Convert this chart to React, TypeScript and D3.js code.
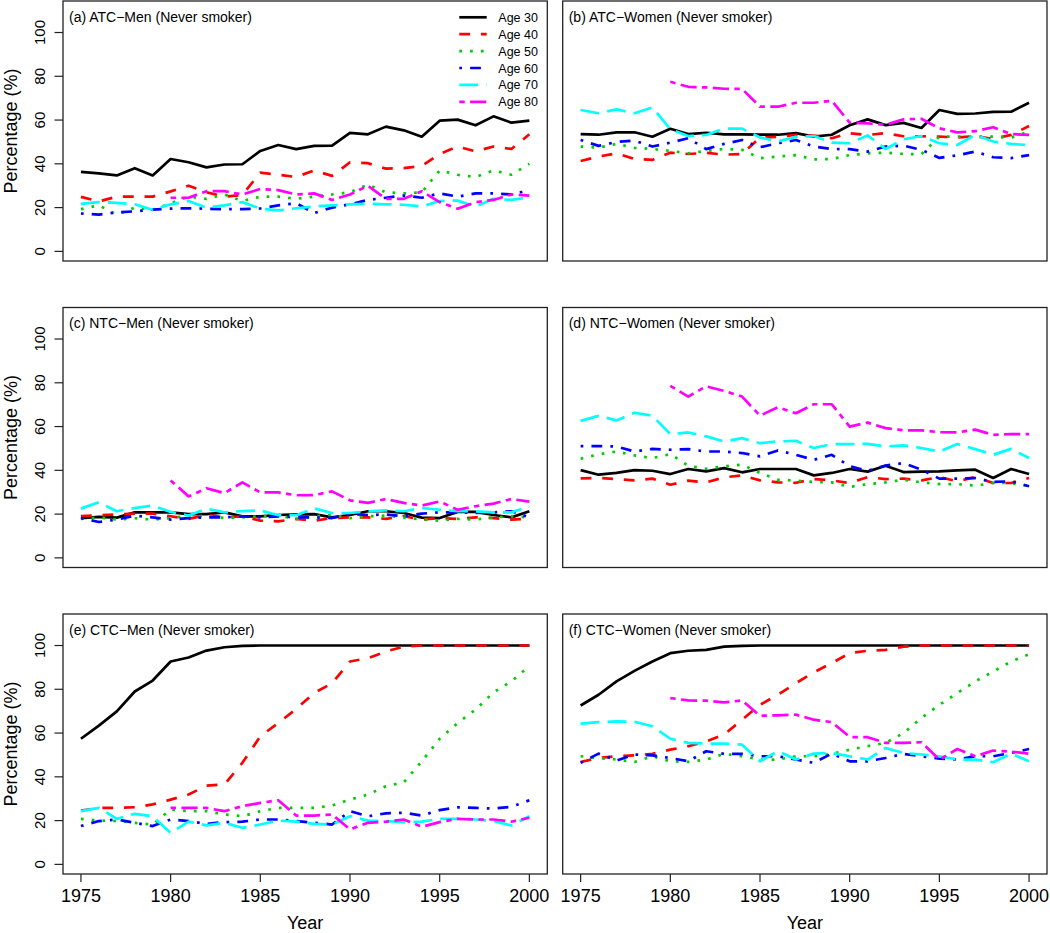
import React from 'react';
import * as d3 from 'd3';

// years shown on every panel; Age 80 only observed from 1980
const years = [1975, 1976, 1977, 1978, 1979, 1980, 1981, 1982, 1983, 1984, 1985, 1986, 1987,
  1988, 1989, 1990, 1991, 1992, 1993, 1994, 1995, 1996, 1997, 1998, 1999, 2000];
const years80 = [1980, 1981, 1982, 1983, 1984, 1985, 1986, 1987, 1988, 1989, 1990, 1991, 1992,
  1993, 1994, 1995, 1996, 1997, 1998, 1999, 2000];

const ageLabels = ["Age 30", "Age 40", "Age 50", "Age 60", "Age 70", "Age 80"];
const xTicks = [1975, 1980, 1985, 1990, 1995, 2000];
const yTicks = [0, 20, 40, 60, 80, 100];

// (a) ATC-Men
const atcMen30 = [36.3, 35.6, 34.7, 38, 34.7, 42.2, 40.7, 38.4, 39.7, 39.8, 45.9, 48.6, 46.7, 48.2, 48.3, 54.1, 53.5, 57, 55.3, 52.4, 59.7, 60.2, 57.6, 61.7, 58.8, 59.7];
const atcMen40 = [24.9, 22.8, 25, 25, 25, 27.4, 30, 27, 25, 25.8, 36, 35, 34, 37, 34.5, 40.7, 40.3, 37.8, 38, 39, 44.5, 47.9, 45.7, 47.9, 46.8, 53.5];
const atcMen50 = [19.3, 21, 16.8, 20, 19, 22, 25, 24, 26, 23, 25, 25, 24, 25, 26, 27, 30.5, 27, 26.5, 27, 37, 35, 34, 37, 35, 40];
const atcMen60 = [17.3, 16.8, 17.8, 18.3, 19.1, 19.5, 19.7, 19.5, 19.3, 19.3, 19.6, 21, 22, 17.5, 20, 21.5, 23.5, 24.5, 25.5, 24.5, 26.5, 25, 26.5, 26.5, 26, 28];
const atcMen70 = [21.7, 22.5, 22.2, 21.5, 19, 21.5, 23, 20, 21, 22.5, 19.5, 18.7, 19.7, 20.5, 21, 21.5, 21.8, 21.5, 21.3, 20.5, 23, 23.2, 20.5, 24, 23.5, 24.7];
const atcMen80 = [24.5, 24.5, 27.5, 27.5, 26, 28.5, 28, 26, 26.5, 23.5, 26, 30, 24, 24, 27.5, 22.5, 19.5, 22.5, 23.5, 26, 25.5];

// (b) ATC-Women
const atcWomen30 = [53.6, 53.3, 54.4, 54.4, 52.4, 56, 53.6, 54.2, 53.5, 53.5, 53.3, 53.3, 54, 52.4, 53.3, 57.6, 60.3, 57.7, 58.7, 56.4, 64.6, 62.8, 63, 63.7, 63.8, 67.9];
const atcWomen40 = [41.3, 43.3, 44.8, 42.2, 41.8, 45.1, 44.5, 45, 44.2, 44.5, 52, 52.4, 53.2, 52.9, 51.7, 54, 53.2, 54, 52.6, 52.6, 52.4, 52.1, 52.6, 51.4, 53.2, 57.3];
const atcWomen50 = [47.9, 47.4, 49.1, 47.3, 46.8, 45.9, 44.8, 45.9, 46.8, 46.4, 42.6, 43.3, 44, 42, 42.2, 44, 44.8, 45.1, 44.5, 44.4, 52.4, 52.4, 52.4, 52.4, 52, 54.7];
const atcWomen60 = [50.9, 48.2, 50, 50.6, 47.9, 49.7, 51.7, 46.7, 49.1, 50.9, 47.6, 49.4, 50.9, 47.9, 46.8, 46.7, 45.6, 47.9, 48.3, 46.4, 42.7, 43.9, 45.6, 43, 42.6, 44];
const atcWomen70 = [64.6, 63.1, 64.9, 63.1, 65.8, 55.8, 52.7, 53.2, 56.1, 56.1, 52.1, 50.2, 52.3, 52.7, 49.7, 49.4, 53, 46.8, 51.2, 52.7, 49.4, 48.6, 53.2, 50.2, 49.1, 48.5];
const atcWomen80 = [77.5, 75.2, 74.9, 74.3, 74.2, 66.1, 66.1, 67.9, 67.9, 68.8, 58.8, 58.5, 57.8, 60.3, 60.6, 56.2, 54.4, 54.9, 56.7, 53.6, 53.2];

// (c) NTC-Men
const ntcMen30 = [18.1, 18.7, 18.4, 20.8, 20.8, 20.8, 20, 20, 20.8, 19, 19, 19.6, 19.9, 20, 18.5, 19.6, 21.3, 21.3, 20.5, 18.4, 18.2, 21, 21, 19.6, 18.5, 21.3];
const ntcMen40 = [19.1, 19.5, 19.8, 20.2, 20.2, 19, 17.8, 19.6, 18.5, 19, 17, 16.7, 17.8, 17, 18.2, 18.5, 18.5, 17.8, 19, 17.5, 18.2, 17.8, 18.5, 18.2, 17.5, 17.8];
const ntcMen50 = [17.8, 18.5, 17.5, 18.1, 17.5, 18.2, 19.3, 19, 18.2, 18.5, 19, 19.3, 17.8, 19, 19.6, 18.1, 19, 19.3, 18.5, 17.5, 17, 17.8, 17.5, 18.5, 19, 18.5];
const ntcMen60 = [18.2, 16.4, 17.5, 19.3, 18.5, 17.5, 18.2, 18.5, 18.5, 19, 18.5, 19, 18.5, 18.5, 18.2, 20, 19.6, 19.8, 19, 20.2, 20.8, 20.8, 20.5, 20.8, 21.3, 18.5];
const ntcMen70 = [22.5, 25.4, 21.3, 22.8, 23.9, 21, 19.3, 22.5, 20.8, 21.4, 21.7, 19.5, 19.5, 22.6, 20.5, 20.5, 21.3, 21.7, 21.3, 22.8, 22, 21.3, 21.3, 20.8, 20.8, 23.6];
const ntcMen80 = [35.4, 28.1, 31.8, 29.6, 34.5, 29.9, 29.9, 28.6, 28.7, 30.4, 26.3, 25.1, 26.9, 25.1, 23.9, 25.8, 22, 23.6, 24.8, 26.9, 25.7];

// (d) NTC-Women
const ntcWomen30 = [40.1, 38, 38.8, 40.1, 39.8, 38.3, 40.6, 39.5, 41, 39.1, 40.6, 40.6, 40.6, 37.7, 38.8, 40.6, 39.4, 42.1, 39.2, 39.4, 39.5, 40, 40.3, 36.5, 40.6, 38.3];
const ntcWomen40 = [36.3, 36.5, 36, 35.4, 36.2, 33.4, 35.3, 34.5, 36.8, 37.7, 35.4, 34.5, 34.3, 36, 35.4, 34.2, 36.9, 36, 36.2, 35.4, 36.9, 35, 36.9, 34.2, 34.2, 36.5];
const ntcWomen50 = [45.3, 47.3, 48.6, 46.8, 45.6, 47.4, 42.1, 40.7, 41.8, 42.6, 38.8, 35.7, 35.3, 34.7, 34.5, 32.4, 33.7, 34.5, 35.7, 34.5, 33.7, 33.7, 33, 34.2, 34.2, 32.7];
const ntcWomen60 = [51.1, 51.1, 50.9, 48.6, 49.8, 49.4, 49.7, 48.6, 48.6, 47.9, 46.4, 49.1, 47.1, 44.8, 47.1, 41.9, 39.8, 42.2, 43.3, 40.3, 36.2, 36.2, 36.5, 34.7, 35, 32.7];
const ntcWomen70 = [62.6, 64.9, 62.8, 66.3, 65, 56.5, 57.3, 55.5, 53.2, 54.7, 52.4, 53.2, 53.5, 50.2, 52, 52, 52.1, 50.9, 51.4, 50.2, 48.6, 52, 49.7, 47.1, 49.8, 45.6];
const ntcWomen80 = [78.6, 73.7, 78.4, 76.3, 73.7, 65, 68.8, 66.1, 70.2, 70.2, 60, 61.8, 59.3, 58.3, 58.3, 57.4, 57.3, 58.6, 56.2, 56.6, 56.5];

// (e) CTC-Men
const ctcMen30 = [57.4, 63.4, 69.9, 79, 84, 92.7, 94.5, 97.7, 99.2, 99.8, 100, 100, 100, 100, 100, 100, 100, 100, 100, 100, 100, 100, 100, 100, 100, 100];
const ctcMen40 = [24.6, 25.8, 25.8, 26.1, 27.4, 29.6, 31.9, 36, 36.5, 46.4, 58.5, 64.6, 71, 78.3, 82.8, 92.7, 94.2, 97.3, 99.5, 100, 100, 100, 100, 100, 100, 100];
const ctcMen50 = [20.8, 20, 19.8, 19, 18.2, 25.1, 24.3, 24.3, 22.8, 22, 24.3, 25.8, 25.8, 25.8, 26.9, 29.6, 31.9, 35.7, 37.5, 47.1, 57.4, 64.6, 70.7, 78.6, 83.6, 90.7];
const ctcMen60 = [17.5, 19.8, 20.5, 19, 17.5, 20.5, 19.8, 18.5, 19.3, 19.5, 20.5, 20.5, 19.8, 19, 18.2, 24.3, 22, 23.3, 23.6, 22.3, 24.8, 26.1, 25.8, 25.5, 26.3, 29.3];
const ctcMen70 = [24.3, 25.8, 20.8, 23.1, 22, 14.4, 19.5, 17.8, 19, 16.7, 18.2, 20, 19.5, 18.5, 18.2, 22, 20, 19.8, 19.3, 19.5, 20.8, 20.8, 20.5, 19.8, 17.8, 22];
const ctcMen80 = [25.8, 25.8, 25.8, 24.3, 26.6, 28.1, 29.3, 22.3, 22.3, 22.8, 16, 19, 19.5, 20.5, 17.2, 19.3, 20.8, 20.5, 20.5, 19.5, 21.3];

// (f) CTC-Women
const ctcWomen30 = [72.6, 77.5, 83.6, 88.4, 92.7, 96.5, 97.6, 98, 99.5, 99.8, 100, 100, 100, 100, 100, 100, 100, 100, 100, 100, 100, 100, 100, 100, 100, 100];
const ctcWomen40 = [46.8, 48.6, 49.4, 49.8, 50.5, 52.4, 54, 56.2, 59.3, 66.1, 72.9, 77.5, 82.8, 87.7, 92, 96.5, 97.6, 98, 99.5, 100, 100, 100, 100, 100, 100, 100];
const ctcWomen50 = [49.4, 48.6, 47.9, 46.8, 49.4, 47.1, 46.8, 47.9, 50.5, 49.4, 47.9, 47.9, 49.4, 49.4, 50.5, 52.4, 54, 55.5, 60, 66.9, 72.9, 78.3, 83.6, 88.1, 92.7, 96];
const ctcWomen60 = [46.4, 50.6, 47.4, 50.2, 49.8, 48.6, 47.1, 51.7, 50.5, 50.5, 49.4, 49.4, 47.9, 46.4, 50.6, 47.1, 47.1, 48.6, 50.5, 49.4, 48.3, 47.9, 49.4, 49.4, 50.9, 52.7];
const ctcWomen70 = [64.3, 65, 65.3, 65.2, 63.1, 57.4, 55.5, 55.2, 55.2, 54.7, 47.1, 51.7, 47.9, 50.6, 50.9, 49.4, 47.9, 53.2, 50.9, 50.2, 49.4, 47.9, 47.9, 46.7, 50.6, 47.1];
const ctcWomen80 = [76, 74.9, 74.8, 74, 74.9, 67.9, 68.1, 68.4, 66.1, 65, 58.2, 58.1, 55.5, 55.5, 55.8, 47.9, 52.7, 49.4, 52, 51.5, 50.6];

const panels = [
  { title: "(a) ATC\u2212Men (Never smoker)", col: 0, row: 0, series: [atcMen30, atcMen40, atcMen50, atcMen60, atcMen70, atcMen80] },
  { title: "(b) ATC\u2212Women (Never smoker)", col: 1, row: 0, series: [atcWomen30, atcWomen40, atcWomen50, atcWomen60, atcWomen70, atcWomen80] },
  { title: "(c) NTC\u2212Men (Never smoker)", col: 0, row: 1, series: [ntcMen30, ntcMen40, ntcMen50, ntcMen60, ntcMen70, ntcMen80] },
  { title: "(d) NTC\u2212Women (Never smoker)", col: 1, row: 1, series: [ntcWomen30, ntcWomen40, ntcWomen50, ntcWomen60, ntcWomen70, ntcWomen80] },
  { title: "(e) CTC\u2212Men (Never smoker)", col: 0, row: 2, series: [ctcMen30, ctcMen40, ctcMen50, ctcMen60, ctcMen70, ctcMen80] },
  { title: "(f) CTC\u2212Women (Never smoker)", col: 1, row: 2, series: [ctcWomen30, ctcWomen40, ctcWomen50, ctcWomen60, ctcWomen70, ctcWomen80] },
];

// R default palette 1:6 and lty 1:6 at lwd ~2.7
const lwd = 2.7;
const colors = ["#000000", "#FF0000", "#00CD00", "#0000FF", "#00FFFF", "#FF00FF"];
const dashes = [null, [4, 4], [1, 3], [1, 3, 4, 3], [7, 3], [2, 2, 6, 2]];
const dashStr = (d: number[] | null) => (d ? d.map(v => v * lwd).join(",") : undefined);

const font = "Arial, 'Liberation Sans', Helvetica, sans-serif";

const cols = [{ left: 63, right: 547.3 }, { left: 562.7, right: 1047 }];
const rowTops = [1, 307.5, 614];
const panelH = 260;

const App = () => {
  return (
    <svg width={1050} height={933} style={{ position: 'absolute', left: 0, top: 0, background: '#fff' }} fontFamily={font}>
      {panels.map((p, pi) => {
        const { left, right } = cols[p.col];
        const top = rowTops[p.row];
        const bottom = top + panelH;
        const x = d3.scaleLinear().domain([1974, 2001]).range([left, right]);
        const y = d3.scaleLinear().domain([-4.4, 114.4]).range([bottom, top]);
        const line = d3.line<[number, number]>().x(d => x(d[0])).y(d => y(d[1]));
        return (
          <g key={pi}>
            {p.series.map((vals, si) => {
              const yrs = vals.length === years80.length ? years80 : years;
              const pts = yrs.map((yr, i) => [yr, vals[i]] as [number, number]);
              return (
                <path key={si} d={line(pts) || ''} fill="none" stroke={colors[si]} strokeWidth={lwd}
                  strokeDasharray={dashStr(dashes[si])} strokeLinejoin="round" />
              );
            })}
            <rect x={left} y={top} width={right - left} height={panelH} fill="none" stroke="#222" strokeWidth={1.3} />
            <text x={left + 6} y={top + 20.5} fontSize={14}>{p.title}</text>
            {p.col === 0 && (
              <g>
                {yTicks.map(t => (
                  <g key={t}>
                    <line x1={left - 8.5} x2={left} y1={y(t)} y2={y(t)} stroke="#222" strokeWidth={1.2} />
                    <text transform={`translate(${left - 18.5},${y(t)}) rotate(-90)`} textAnchor="middle" fontSize={15}>{t}</text>
                  </g>
                ))}
                <text transform={`translate(17,${(top + bottom) / 2}) rotate(-90)`} textAnchor="middle" fontSize={18}>Percentage (%)</text>
              </g>
            )}
            {p.row === 2 && (
              <g>
                {xTicks.map(t => (
                  <g key={t}>
                    <line x1={x(t)} x2={x(t)} y1={bottom} y2={bottom + 8} stroke="#222" strokeWidth={1.2} />
                    <text x={x(t)} y={bottom + 28} textAnchor="middle" fontSize={18}>{t}</text>
                  </g>
                ))}
                <text x={(x(1975) + x(2000)) / 2} y={bottom + 55} textAnchor="middle" fontSize={18}>Year</text>
              </g>
            )}
            {pi === 0 && (
              <g>
                {ageLabels.map((lab, li) => {
                  const ly = top + 16.3 + li * 16.9;
                  return (
                    <g key={lab}>
                      <line x1={459.3} x2={486.7} y1={ly} y2={ly} stroke={colors[li]} strokeWidth={lwd} strokeDasharray={dashStr(dashes[li])} />
                      <text x={498.3} y={ly + 4.5} fontSize={12.5}>{lab}</text>
                    </g>
                  );
                })}
              </g>
            )}
          </g>
        );
      })}
    </svg>
  );
};

export default App;
